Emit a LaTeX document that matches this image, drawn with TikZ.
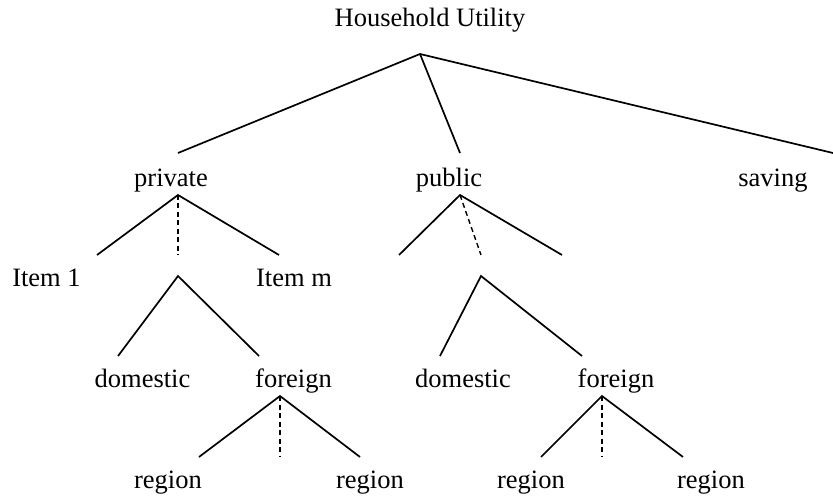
\documentclass[tikz,border=0pt]{standalone}
\usepackage{fontspec}
\setmainfont{Liberation Serif}
\begin{document}
\begin{tikzpicture}[x=1pt,y=-1pt,
  lbl/.style={anchor=base,inner sep=0pt,font=\fontsize{26.5}{30}\selectfont},
  edge/.style={line width=1.7pt},
  dedge/.style={line width=1.4pt,dash pattern=on 5pt off 3.5pt}]
\useasboundingbox (0,0) rectangle (833,497);
% labels
\node[lbl] (hu) at (430,27) {Household Utility};
\node[lbl] (priv) at (171,187) {private};
\node[lbl] (pub) at (449,187) {public};
\node[lbl] (sav) at (773,187) {saving};
\node[lbl] (it1) at (46.5,287) {Item 1};
\node[lbl] (itm) at (294,287) {Item m};
\node[lbl] (dom1) at (142.5,387) {domestic};
\node[lbl] (for1) at (293.5,387) {foreign};
\node[lbl] (dom2) at (463,387) {domestic};
\node[lbl] (for2) at (616,387) {foreign};
\node[lbl] (r1) at (168,488) {region};
\node[lbl] (r2) at (370,488) {region};
\node[lbl] (r3) at (531,488) {region};
\node[lbl] (r4) at (711,488) {region};
% coordinates
\coordinate (A) at (420,54);
\coordinate (A1) at (178,153);
\coordinate (A2) at (460,153);
\coordinate (A3) at (833,153);
\coordinate (P) at (178,195);
\coordinate (P1) at (97,255);
\coordinate (P2) at (178,255);
\coordinate (P3) at (279,255);
\coordinate (PS) at (178,276);
\coordinate (PS1) at (118,356);
\coordinate (PS2) at (259,356);
\coordinate (Q) at (460,195);
\coordinate (Q1) at (399,255);
\coordinate (Q2) at (481,255);
\coordinate (Q3) at (562,255);
\coordinate (QS) at (481,276);
\coordinate (QS1) at (440,356);
\coordinate (QS2) at (582,356);
\coordinate (F) at (280,396);
\coordinate (F1) at (199,457);
\coordinate (F2) at (280,457);
\coordinate (F3) at (360,457);
\coordinate (G) at (602,396);
\coordinate (G1) at (541,457);
\coordinate (G2) at (602,457);
\coordinate (G3) at (683,457);
% edges
\draw[edge] (A1) -- (A) -- (A3);
\draw[edge] (A) -- (A2);
\draw[edge] (P1) -- (P) -- (P3);
\draw[dedge] (P) -- (P2);
\draw[edge] (PS1) -- (PS) -- (PS2);
\draw[edge] (Q1) -- (Q) -- (Q3);
\draw[dedge] (Q) -- (Q2);
\draw[edge] (QS1) -- (QS) -- (QS2);
\draw[edge] (F1) -- (F) -- (F3);
\draw[dedge] (F) -- (F2);
\draw[edge] (G1) -- (G) -- (G3);
\draw[dedge] (G) -- (G2);
\end{tikzpicture}
\end{document}
